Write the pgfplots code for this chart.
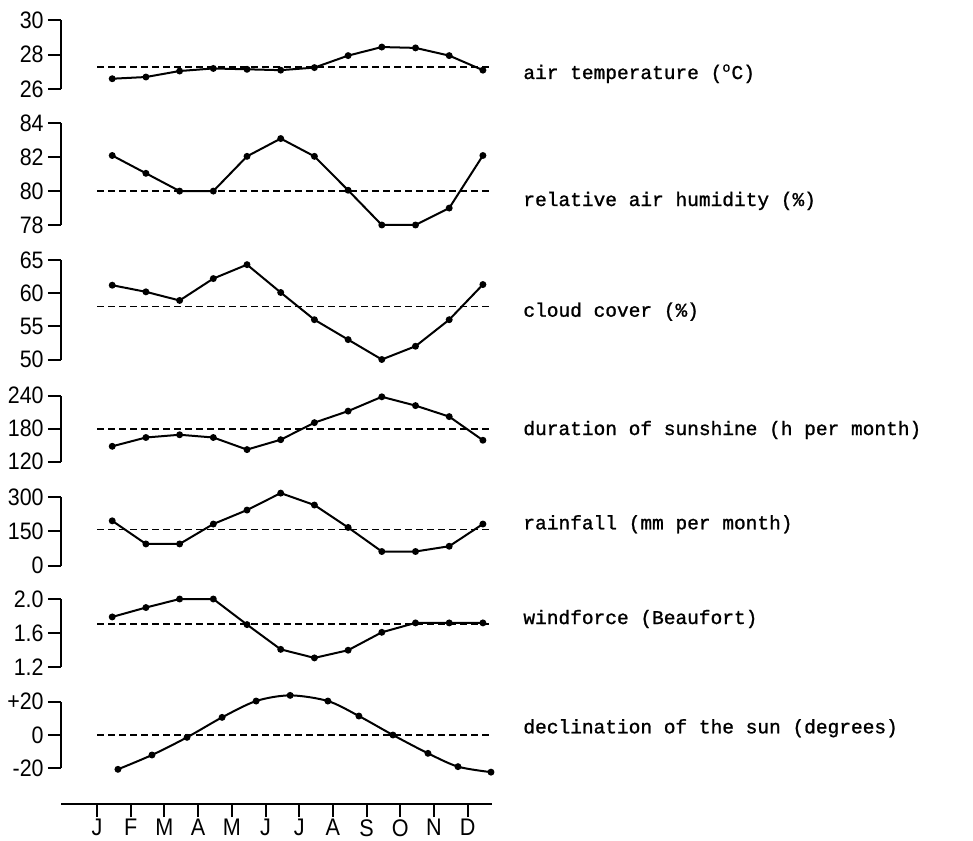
\documentclass[border=0pt]{standalone}
\usepackage{pgfplots}
\pgfplotsset{compat=1.18}
\usepackage{fontspec}
\setmainfont{Liberation Sans}[FakeStretch=0.9]
\newfontfamily\tw{Liberation Mono}[FakeBold=1.2]

% 1 px of the reference = 0.5pt
\pgfplotsset{
  panel/.style={
    scale only axis, width=215.5pt, xmin=-1.07, xmax=11.72,
    anchor=north west, clip=false,
    axis x line=none, axis y line*=left,
    axis line style={line width=1pt, -},
    tick align=outside, major tick length=6.5pt,
    tick style={line width=1pt, black},
    yticklabel style={inner sep=0pt, xshift=-2pt, font=\fontsize{11.9}{12}\selectfont},
    /pgf/number format/assume math mode=true,
  },
  mean/.style={black, line width=0.9pt, dash pattern=on 3.5pt off 2pt},
  series/.style={black, line width=1pt, mark=*, mark size=1.2pt},
}

\begin{document}
\begin{tikzpicture}
\useasboundingbox (0,0) rectangle (486.5pt,-420pt);

% air temperature
\begin{axis}[panel, at={(30.5pt,-10.25pt)}, height=34.25pt,
  ymin=26, ymax=30, ytick={26,28,30}, yticklabels={26,28,30}]
\addplot[mean] coordinates {(0,27.3) (11.66,27.3)};
\addplot[series] coordinates {(0.45,26.6) (1.45,26.7) (2.45,27.05) (3.45,27.2)
  (4.45,27.15) (5.45,27.1) (6.45,27.25) (7.45,27.95) (8.45,28.45) (9.45,28.4)
  (10.45,27.95) (11.45,27.1)};
\end{axis}

% relative air humidity
\begin{axis}[panel, at={(30.5pt,-61.65pt)}, height=50.85pt,
  ymin=78, ymax=84, ytick={78,80,82,84}, yticklabels={78,80,82,84}]
\addplot[mean] coordinates {(0,80) (11.66,80)};
\addplot[series] coordinates {(0.45,82.1) (1.45,81.05) (2.45,80) (3.45,80)
  (4.45,82.05) (5.45,83.1) (6.45,82.05) (7.45,80.05) (8.45,78) (9.45,78)
  (10.45,79) (11.45,82.1)};
\end{axis}

% cloud cover
\begin{axis}[panel, at={(30.5pt,-130pt)}, height=49.75pt,
  ymin=50, ymax=65, ytick={50,55,60,65}, yticklabels={50,55,60,65}]
\addplot[mean] coordinates {(0,58) (11.66,58)};
\addplot[series] coordinates {(0.45,61.2) (1.45,60.2) (2.45,58.9) (3.45,62.2)
  (4.45,64.3) (5.45,60.1) (6.45,56) (7.45,53) (8.45,50) (9.45,52)
  (10.45,56) (11.45,61.3)};
\end{axis}

% duration of sunshine
\begin{axis}[panel, at={(30.5pt,-197.85pt)}, height=33pt,
  ymin=120, ymax=240, ytick={120,180,240}, yticklabels={120,180,240}]
\addplot[mean] coordinates {(0,180) (11.66,180)};
\addplot[series] coordinates {(0.45,148) (1.45,164) (2.45,169) (3.45,164)
  (4.45,142) (5.45,160) (6.45,191) (7.45,212) (8.45,238) (9.45,222)
  (10.45,202) (11.45,159)};
\end{axis}

% rainfall
\begin{axis}[panel, at={(30.5pt,-248.5pt)}, height=34.35pt,
  ymin=0, ymax=300, ytick={0,150,300}, yticklabels={0,150,300}]
\addplot[mean] coordinates {(0,158) (11.66,158)};
\addplot[series] coordinates {(0.45,196) (1.45,95) (2.45,95) (3.45,182)
  (4.45,243) (5.45,317) (6.45,265) (7.45,167) (8.45,62) (9.45,62)
  (10.45,85) (11.45,182)};
\end{axis}

% windforce
\begin{axis}[panel, at={(30.5pt,-299.5pt)}, height=34.15pt,
  ymin=1.2, ymax=2.0, ytick={1.2,1.6,2.0}, yticklabels={1.2,1.6,2.0}]
\addplot[mean] coordinates {(0,1.71) (11.66,1.71)};
\addplot[series] coordinates {(0.45,1.79) (1.45,1.9) (2.45,2.0) (3.45,2.0)
  (4.45,1.7) (5.45,1.41) (6.45,1.31) (7.45,1.4) (8.45,1.61) (9.45,1.72)
  (10.45,1.72) (11.45,1.72)};
\end{axis}

% declination of the sun
\begin{axis}[panel, at={(30.5pt,-350.85pt)}, height=33.3pt,
  ymin=-20, ymax=20, ytick={-20,0,20}, yticklabels={-20,0,+20}]
\addplot[mean] coordinates {(0,0) (11.66,0)};
\addplot[series, smooth] coordinates {(0.62,-20.6) (1.63,-12) (2.67,-1.4)
  (3.71,10.6) (4.72,20.4) (5.73,23.8) (6.85,20.4) (7.77,11.4) (8.78,0)
  (9.82,-11) (10.71,-19) (11.69,-22.3)};
\end{axis}

% month axis
\begin{axis}[scale only axis, width=215.5pt, height=10pt,
  at={(30.5pt,-402pt)}, anchor=south west,
  xmin=-1.07, xmax=11.72, ymin=0, ymax=1,
  axis y line=none, axis x line*=bottom,
  axis line style={line width=1.3pt, -},
  tick align=outside, major tick length=6.5pt,
  tick style={line width=1pt, black},
  xtick={0,...,11}, xticklabels={J,F,M,A,M,J,J,A,S,O,N,D},
  xticklabel style={inner sep=0pt, yshift=-1pt, font=\fontsize{12}{12}\selectfont}]
\addplot[draw=none] coordinates {(0,0)};
\end{axis}

\begin{scope}[every node/.style={anchor=base west, inner sep=0pt, font=\tw\fontsize{9.75}{10}\selectfont}]
\node at (261.5pt,-39.5pt) {air temperature (\textsuperscript{o}C)};
\node at (261.5pt,-103pt) {relative air humidity (\%)};
\node at (261.5pt,-158.35pt) {cloud cover (\%)};
\node at (261.5pt,-217.5pt) {duration of sunshine (h per month)};
\node at (261.5pt,-264.65pt) {rainfall (mm per month)};
\node at (261.5pt,-312pt) {windforce (Beaufort)};
\node at (261.5pt,-366.65pt) {declination of the sun (degrees)};
\end{scope}
\end{tikzpicture}
\end{document}
